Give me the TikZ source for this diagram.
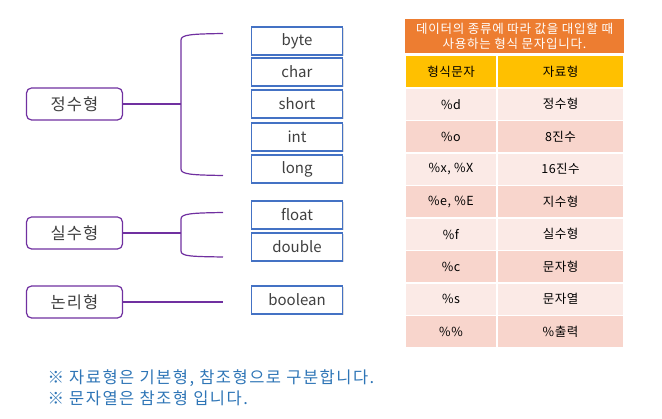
\documentclass[tikz,border=0pt]{standalone}
\usepackage{fontspec}
\setmainfont{Noto Sans CJK KR}
\usetikzlibrary{shadows}
\definecolor{purp}{HTML}{7030A0}
\definecolor{bluebox}{HTML}{4472C4}
\definecolor{txt}{HTML}{404040}
\definecolor{orng}{HTML}{ED7D31}
\definecolor{yell}{HTML}{FFC000}
\definecolor{rowa}{HTML}{FBEAE6}
\definecolor{rowb}{HTML}{F8D5CC}
\definecolor{notec}{HTML}{2E75B6}
\tikzset{
  typebox/.style={draw=bluebox, line width=1.3pt, fill=white, minimum width=91pt, minimum height=28pt, inner sep=0pt, text=txt, font=\fontsize{15}{18}\selectfont, drop shadow={opacity=0.25, shadow xshift=1.2pt, shadow yshift=-1.2pt}},
  catbox/.style={draw=purp, line width=1.2pt, rounded corners=5pt, fill=white, minimum width=96pt, minimum height=32pt, inner sep=0pt, text=txt, font=\fontsize{16.5}{19}\selectfont\addfontfeature{LetterSpace=6}},
  brace/.style={draw=purp, line width=1.2pt},
  cell/.style={minimum height=32.5pt, inner sep=0pt, font=\fontsize{12.5}{14}\selectfont\addfontfeature{LetterSpace=4}, text=black, draw=white, line width=1.2pt},
  notestyle/.style={anchor=west, text=notec, font=\fontsize{16.5}{18}\selectfont\addfontfeature{LetterSpace=9}, align=left},
}
\begin{document}
\begin{tikzpicture}[x=1pt,y=-1pt]
\useasboundingbox (0,0) rectangle (662,419);
% type boxes
\node[typebox] (byte) at (297,41) {byte};
\node[typebox] (char) at (297,72) {char};
\node[typebox] (short) at (297,104) {short};
\node[typebox] (int) at (297,137) {int};
\node[typebox] (long) at (297,169) {long};
\node[typebox] (float) at (297,215) {float};
\node[typebox] (double) at (297,247) {double};
\node[typebox] (boolean) at (297,300) {boolean};
% category boxes
\node[catbox] (jeong) at (74.5,104) {정수형};
\node[catbox] (sil) at (74.5,233) {실수형};
\node[catbox] (non) at (74.5,302) {논리형};
% braces
\coordinate (b1) at (181,104);
\coordinate (b1t) at (223,33.5);
\coordinate (b1b) at (223,175.5);
\draw[brace] (jeong.east) -- (b1);
\draw[brace] (b1t) .. controls (192,34) and (181,34.5) .. (181,40) -- (181,169) .. controls (181,174.5) and (192,175) .. (b1b);
\coordinate (b2) at (181,233);
\coordinate (b2t) at (223,212.5);
\coordinate (b2b) at (223,257);
\draw[brace] (sil.east) -- (b2);
\draw[brace] (b2t) .. controls (192,213) and (181,213.5) .. (181,219) -- (181,251) .. controls (181,256.5) and (192,256.5) .. (b2b);
\coordinate (b3) at (223,302);
\draw[brace] (non.east) -- (b3);
% table
\node[fill=orng, minimum width=219pt, minimum height=34pt, inner sep=0pt, text=white, align=center, font=\fontsize{12.5}{14.5}\selectfont\addfontfeature{LetterSpace=6}] (title) at (514.5,36.5) {데이터의 종류에 따라 값을 대입할 때\\사용하는 형식 문자입니다.};
\node[cell, fill=yell, minimum width=92pt] (h1) at (451,72) {형식문자};
\node[cell, fill=yell, minimum width=127pt] (h2) at (560.5,72) {자료형};
\foreach \i/\a/\b/\c in {1/{\%d}/정수형/rowa, 2/{\%o}/8진수/rowb, 3/{\%x, \%X}/16진수/rowa, 4/{\%e, \%E}/지수형/rowb, 5/{\%f}/실수형/rowa, 6/{\%c}/문자형/rowb, 7/{\%s}/문자열/rowa, 8/{\%\%}/\%출력/rowb}{
  \node[cell, fill=\c, minimum width=92pt] (r\i a) at (451,{88+32.5*(\i-0.5)}) {\a};
  \node[cell, fill=\c, minimum width=127pt] (r\i b) at (560.5,{88+32.5*(\i-0.5)}) {\b};
}
% notes
\node[notestyle] (note1) at (44,378) {※ 자료형은 기본형, 참조형으로 구분합니다.};
\node[notestyle] (note2) at (44,398) {※ 문자열은 참조형 입니다.};
\end{tikzpicture}
\end{document}
